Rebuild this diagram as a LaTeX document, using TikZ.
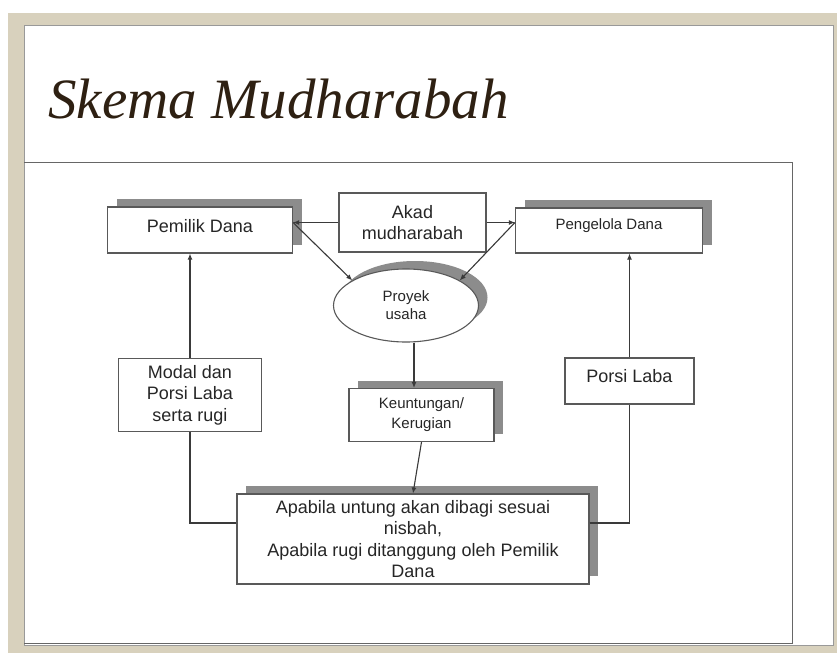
\documentclass[tikz,border=0pt]{standalone}
\usepackage{fontspec}
\setmainfont{Liberation Sans}
\newfontfamily\judul{Liberation Serif}
\usepackage{tikz}
\usetikzlibrary{shapes.geometric,shadows,arrows.meta}
\definecolor{bingkai}{HTML}{D8D1BD}
\definecolor{coklat}{HTML}{2E2012}
\definecolor{garis}{HTML}{3A3A3A}

\begin{document}
\begin{tikzpicture}[x=1pt,y=-1pt,
kotak/.style={draw=black!65,line width=1.1pt,fill=white,rectangle,align=center,text=black!85,inner sep=0pt},
bayang/.style={general shadow={fill=black!45,shadow xshift=9pt,shadow yshift=8pt}},
besar/.style={font=\fontsize{18}{21.5}\selectfont},
kecil/.style={font=\fontsize{15}{20}\selectfont},
panah/.style={draw=garis,line width=1.1pt,-{Latex[length=6pt,width=5pt]}},
sambung/.style={draw=garis,line width=1.1pt}]
\useasboundingbox (0,0) rectangle (837,653);
\fill[bingkai] (8,13) rectangle (837,653);
\fill[white] (24,25) rectangle (833,645);
\draw[black!40,line width=1pt] (24,25) rectangle (833,645);
\draw[black!60,line width=1pt] (24,162) -- (792,162) -- (792,643) -- (24,643);
\node (judul) [anchor=base west,text=coklat,inner sep=0pt,font=\judul\itshape\fontsize{57}{60}\selectfont] at (48,118) {Skema Mudharabah};

\node (pemilik) [kotak,bayang,besar,minimum width=185pt,minimum height=46pt] at (200,230) {\raisebox{9pt}{Pemilik Dana}};
\node (akad) [kotak,besar,minimum width=147pt,minimum height=59pt] at (412.5,222.5) {Akad\\mudharabah};
\node (pengelola) [kotak,bayang,kecil,minimum width=187pt,minimum height=45pt] at (609,230.5) {\raisebox{13pt}{Pengelola Dana}};
\node (proyek) [kotak,ellipse,bayang,font=\fontsize{15}{18}\selectfont,minimum width=145pt,minimum height=73pt] at (406,305.5) {Proyek\\usaha};
\node (modal) [kotak,besar,minimum width=143pt,minimum height=73pt] at (190,395) {Modal dan\\Porsi Laba\\serta rugi};
\node (untung) [kotak,bayang,kecil,minimum width=145pt,minimum height=53pt] at (421.5,415) {Keuntungan/\\Kerugian};
\node (porsi) [kotak,besar,minimum width=129pt,minimum height=46pt] at (629.5,381) {\raisebox{10pt}{Porsi Laba}};
\node (nisbah) [kotak,bayang,besar,minimum width=352pt,minimum height=90pt] at (413,539) {Apabila untung akan dibagi sesuai\\nisbah,\\Apabila rugi ditanggung oleh Pemilik\\Dana};

\coordinate (pd) at (akad.west -| pemilik.east);
\coordinate (gd) at (akad.east -| pengelola.west);
\draw[panah] (akad.west) -- (pd);
\draw[panah] (akad.east) -- (gd);
\draw[panah] (pd) -- (proyek.155);
\draw[panah] (gd) -- (proyek.25);
\draw[panah] ([xshift=8pt]proyek.south) -- ([xshift=8pt]proyek.south |- untung.north);
\draw[panah] (untung.south) -- (nisbah.north);
\draw[sambung] ([yshift=16pt]nisbah.west) -| (modal.south);
\draw[panah] (modal.north) -- (modal.north |- pemilik.south);
\draw[sambung] ([yshift=16pt]nisbah.east) -| (porsi.south);
\draw[panah] (porsi.north) -- (porsi.north |- pengelola.south);
\end{tikzpicture}
\end{document}
